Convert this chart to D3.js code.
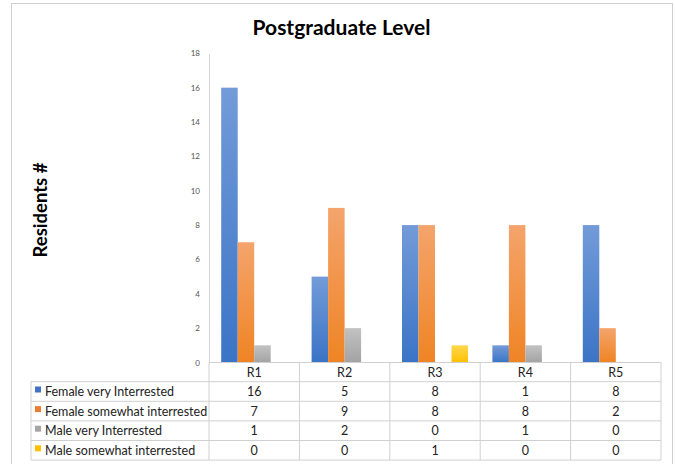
<!DOCTYPE html>
<html><head><meta charset="utf-8">
<script src="https://cdn.jsdelivr.net/npm/d3@7"></script>
<style>body{margin:0;background:#fff}svg{display:block}</style>
</head><body>
<script>
const categories = ["R1","R2","R3","R4","R5"];
const seriesNames = ["Female very Interrested","Female somewhat interrested","Male very Interrested","Male somewhat interrested"];
const femaleVery = [16,5,8,1,8];
const femaleSomewhat = [7,9,8,8,2];
const maleVery = [1,2,0,1,0];
const maleSomewhat = [0,0,1,0,0];
const yTicks = [0,2,4,6,8,10,12,14,16,18];
const title = "Postgraduate Level";
const yTitle = "Residents #";

const seriesValues = [femaleVery, femaleSomewhat, maleVery, maleSomewhat];
const colors = [
  {top:"#739bd8", bot:"#3b74c6", sw:"#4472c4"},
  {top:"#f4a46c", bot:"#ef8424", sw:"#ed7d31"},
  {top:"#c2c2c2", bot:"#a3a3a3", sw:"#a5a5a5"},
  {top:"#ffd850", bot:"#ffc000", sw:"#ffc000"}
];

(function(){
const W=675,H=464;
const svg=d3.select("body").append("svg").attr("width",W).attr("height",H);
const font="Lato, 'Open Sans', sans-serif";

svg.append("rect").attr("x",11.5).attr("y",3.5).attr("width",661).attr("height",470)
  .attr("fill","#fff").attr("stroke","#d0d0d0").attr("stroke-width",1);

const defs=svg.append("defs");
colors.forEach((c,i)=>{
  const g=defs.append("linearGradient").attr("id","g"+i).attr("x1",0).attr("y1",0).attr("x2",0).attr("y2",1);
  g.append("stop").attr("offset","0%").attr("stop-color",c.top);
  g.append("stop").attr("offset","100%").attr("stop-color",c.bot);
});

const pLeft=209,pRight=661,pTop=53.3,pBottom=362.5;
const x=d3.scaleBand().domain(categories).range([pLeft,pRight]).paddingInner(0.27).paddingOuter(0.135);
const xs=d3.scaleBand().domain(d3.range(4)).range([0,x.bandwidth()]);
const y=d3.scaleLinear().domain([0,18]).range([pBottom,pTop]);

svg.append("text").attr("x",341.5).attr("y",35).attr("text-anchor","middle")
  .attr("font-family",font).attr("font-weight",700).attr("font-size",21).attr("fill","#000").text(title);
svg.append("text").attr("transform","translate(46.5,210) rotate(-90)").attr("text-anchor","middle")
  .attr("font-family",font).attr("font-weight",700).attr("font-size",18.5).attr("fill","#000").text(yTitle);

const ya=svg.append("g").attr("transform",`translate(${pLeft},0)`)
  .call(d3.axisLeft(y).tickValues(yTicks).tickSize(0).tickPadding(9));
ya.select(".domain").attr("stroke","#d6d6d6");
ya.selectAll("text").attr("font-family",font).attr("font-size",8).attr("fill","#555");

seriesValues.forEach((vals,si)=>{
  svg.append("g").selectAll("rect").data(vals).join("rect")
    .attr("x",(d,i)=>x(categories[i])+xs(si))
    .attr("y",d=>y(d)).attr("width",xs.bandwidth()).attr("height",d=>pBottom-y(d))
    .attr("fill",`url(#g${si})`);
});

const lineC="#d0d0d0";
const tbl=svg.append("g");
const tblLeft=31, hdrTop=pBottom;
const rowTops=[hdrTop, 381.7, 401.3, 420.9, 440.5, 460.1];
tbl.append("line").attr("x1",pLeft).attr("x2",pRight).attr("y1",hdrTop).attr("y2",hdrTop).attr("stroke",lineC);
rowTops.slice(1).forEach(t=>{
  tbl.append("line").attr("x1",tblLeft).attr("x2",pRight).attr("y1",t).attr("y2",t).attr("stroke",lineC);
});
const colEdges=[pLeft].concat(categories.map(c=>x(c)+x.bandwidth()+x.step()*x.paddingInner()/2));
colEdges[colEdges.length-1]=pRight;
colEdges.forEach(cx=>{
  tbl.append("line").attr("x1",cx).attr("x2",cx).attr("y1",hdrTop).attr("y2",rowTops[5]).attr("stroke",lineC);
});
tbl.append("line").attr("x1",tblLeft).attr("x2",tblLeft).attr("y1",rowTops[1]).attr("y2",rowTops[5]).attr("stroke",lineC);

const fs=12.5;
categories.forEach(c=>{
  tbl.append("text").attr("x",x(c)+x.bandwidth()/2).attr("y",(rowTops[0]+rowTops[1])/2+4.5)
    .attr("text-anchor","middle").attr("font-family",font).attr("font-size",fs).attr("fill","#222").text(c);
});
seriesNames.forEach((n,si)=>{
  const cy=(rowTops[si+1]+rowTops[si+2])/2;
  tbl.append("rect").attr("x",35).attr("y",cy-5).attr("width",6).attr("height",6).attr("fill",colors[si].sw);
  tbl.append("text").attr("x",45).attr("y",cy+4.5).attr("font-family",font).attr("font-size",fs).attr("fill","#222").text(n);
  seriesValues[si].forEach((v,i)=>{
    tbl.append("text").attr("x",x(categories[i])+x.bandwidth()/2).attr("y",cy+4.5)
      .attr("text-anchor","middle").attr("font-family",font).attr("font-size",fs).attr("fill","#222").text(v);
  });
});
})();
</script>
</body></html>
